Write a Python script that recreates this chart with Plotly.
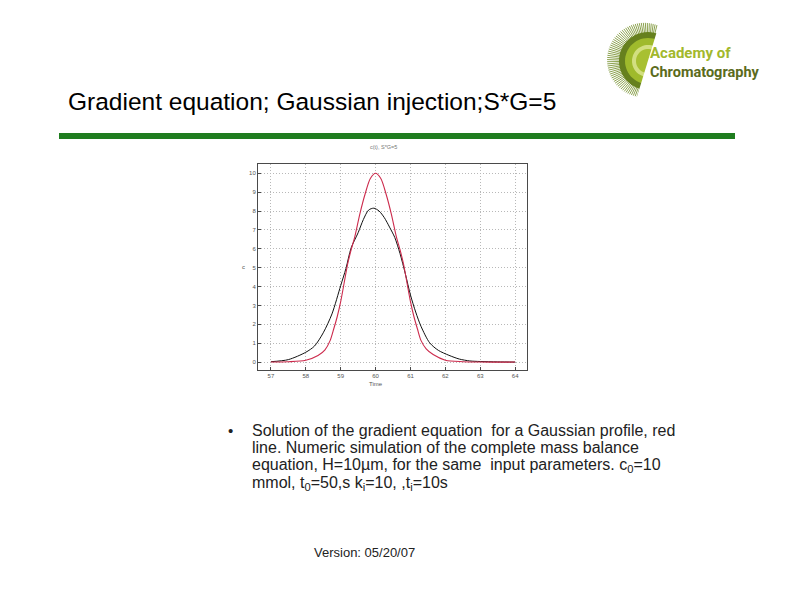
import numpy as np
import plotly.graph_objects as go

# ---------------- data ----------------
sim_time = [57.0, 57.5, 58.0, 58.25, 58.5, 58.75, 59.0, 59.15, 59.3, 59.5, 59.65, 59.8,
            59.95, 60.1, 60.25, 60.4, 60.55, 60.7, 60.85, 61.0, 61.15, 61.3, 61.55, 61.8,
            62.1, 62.4, 62.7, 63.0, 63.5, 64.0]
sim_conc = [0.02, 0.13, 0.52, 0.85, 1.55, 2.55, 4.05, 4.95, 6.05, 6.85, 7.55, 8.05,
            8.15, 8.0, 7.65, 7.15, 6.6, 5.75, 4.7, 3.55, 2.65, 1.9, 1.02, 0.62,
            0.36, 0.16, 0.06, 0.03, 0.01, 0.0]

grad_time = [57.0, 57.5, 58.0, 58.35, 58.55, 58.7, 58.8, 58.9, 59.0, 59.1, 59.2, 59.3,
             59.4, 59.55, 59.7, 59.85, 60.0, 60.15, 60.3, 60.45, 60.6, 60.7, 60.8, 60.9,
             61.0, 61.1, 61.2, 61.3, 61.45, 61.65, 62.0, 62.5, 63.0, 64.0]
grad_conc = [0.0, 0.02, 0.1, 0.35, 0.65, 1.15, 1.75, 2.4, 3.2, 4.2, 5.2, 5.95,
             6.6, 7.85, 8.9, 9.72, 10.0, 9.72, 8.9, 7.85, 6.6, 5.95, 5.2, 4.2,
             3.2, 2.4, 1.75, 1.15, 0.7, 0.4, 0.1, 0.02, 0.0, 0.0]

x_ticks = [57, 58, 59, 60, 61, 62, 63, 64]
y_ticks = [0, 1, 2, 3, 4, 5, 6, 7, 8, 9, 10]

# ---------------- geometry helpers ----------------
FW, FH = 794, 595
OFF = 8  # page body margin of the browser
L, R, T, B = 258 - OFF, 527 - OFF, 164 - OFF, 370 - OFF
W, H = R - L, B - T


def px(x):
    return (x - OFF - L) / W


def py(y):
    return (B - (y - OFF)) / H


fig = go.Figure()
fig.add_trace(go.Scatter(x=sim_time, y=sim_conc, mode="lines",
                         line=dict(color="#111111", width=1, shape="spline", smoothing=0.8),
                         showlegend=False))
fig.add_trace(go.Scatter(x=grad_time, y=grad_conc, mode="lines",
                         line=dict(color="#cc2a4c", width=1.1, shape="spline", smoothing=0.8),
                         showlegend=False))

axis_common = dict(showgrid=True, gridcolor="#b8b8b8", griddash="1px,2px", gridwidth=1,
                   showline=True, mirror=True, linecolor="#4a4a4a", linewidth=1,
                   ticks="inside", ticklen=3, tickcolor="#4a4a4a",
                   tickfont=dict(family="Liberation Sans, Arial, sans-serif", size=6, color="#555555"),
                   zeroline=False, fixedrange=True)

fig.update_xaxes(range=[56.63, 64.34], tickvals=x_ticks, ticktext=[str(v) for v in x_ticks],
                 **axis_common)
fig.update_yaxes(range=[-0.42, 10.49], tickvals=y_ticks, ticktext=[str(v) for v in y_ticks],
                 **axis_common)

FONT = "Liberation Sans, Arial, Helvetica, sans-serif"
anns = []


def text(x, y, s, size, color="#000000", xanchor="left", yanchor="middle", family=FONT, **kw):
    anns.append(dict(x=px(x), y=py(y), xref="paper", yref="paper", text=s, showarrow=False,
                     xanchor=xanchor, yanchor=yanchor,
                     font=dict(family=family, size=size, color=color), **kw))


# slide title
text(66, 102, "Gradient equation; Gaussian injection;S*G=5", 24.5)

# chart small labels
text(383, 147, "c(t), S*G=5", 5.5, color="#777777", xanchor="center")
text(376, 384, "Time", 6, color="#555555", xanchor="center")
text(243, 267, "c", 6, color="#555555", xanchor="center")

# bullet text
text(230, 430, "•", 15, color="#222222", xanchor="center")
lines = [
    "Solution of the gradient equation  for a Gaussian profile, red",
    "line. Numeric simulation of the complete mass balance",
    "equation, H=10µm, for the same  input parameters. c<sub>0</sub>=10",
    "mmol, t<sub>0</sub>=50,s k<sub>i</sub>=10, ,t<sub>i</sub>=10s",
]
for i, s in enumerate(lines):
    text(250, 430 + i * 17.7, s, 16, color="#222222")

text(312, 552, "Version: 05/20/07", 13, color="#222222")

# logo text
LOGO_FONT = "Roboto, Liberation Sans, sans-serif"
text(648, 53, "<b>Academy of</b>", 15, color="#a2b82c", family=LOGO_FONT)
text(648, 72, "<b>Chromatography</b>", 14.5, color="#5b6b1c", family=LOGO_FONT)

shapes = []
# green rule
shapes.append(dict(type="rect", xref="paper", yref="paper", x0=px(59), x1=px(735),
                   y0=py(139), y1=py(133), fillcolor="#1f7d1f", line=dict(width=0), layer="above"))


def circle_path(cx, cy, r, n=60):
    pts = []
    for k in range(n):
        a = 2 * np.pi * k / n
        pts.append((px(cx + r * np.cos(a)), py(cy - r * np.sin(a))))
    return "M " + " L ".join(f"{a:.5f},{b:.5f}" for a, b in pts) + " Z"


cx, cy = 648, 61
# rays
for deg in np.arange(76, 262, 3.0):
    a = np.deg2rad(deg)
    r0, r1 = 27, 37 + 4 * np.sin(np.deg2rad(deg - 76))
    shapes.append(dict(type="line", xref="paper", yref="paper",
                       x0=px(cx + r0 * np.cos(a)), y0=py(cy - r0 * np.sin(a)),
                       x1=px(cx + r1 * np.cos(a)), y1=py(cy - r1 * np.sin(a)),
                       line=dict(color="#6f8a22", width=0.8), layer="above"))
for r, col in [(29, "#66801e"), (23, "#9fba2c"), (16, "#d2df80"), (12, "#a8c032")]:
    shapes.append(dict(type="path", xref="paper", yref="paper", path=circle_path(cx, cy, r),
                       fillcolor=col, line=dict(width=0), layer="above"))
# white cut on right side of the sun
cut = [(661, 18), (700, 18), (700, 100), (636, 100)]
shapes.append(dict(type="path", xref="paper", yref="paper",
                   path="M " + " L ".join(f"{px(a):.5f},{py(b):.5f}" for a, b in cut) + " Z",
                   fillcolor="#ffffff", line=dict(width=0), layer="above"))

fig.update_layout(width=FW, height=FH, margin=dict(l=L, r=FW - R, t=T, b=FH - B),
                  paper_bgcolor="#ffffff", plot_bgcolor="#ffffff",
                  annotations=anns, shapes=shapes, showlegend=False)

fig.write_html("out.html")
